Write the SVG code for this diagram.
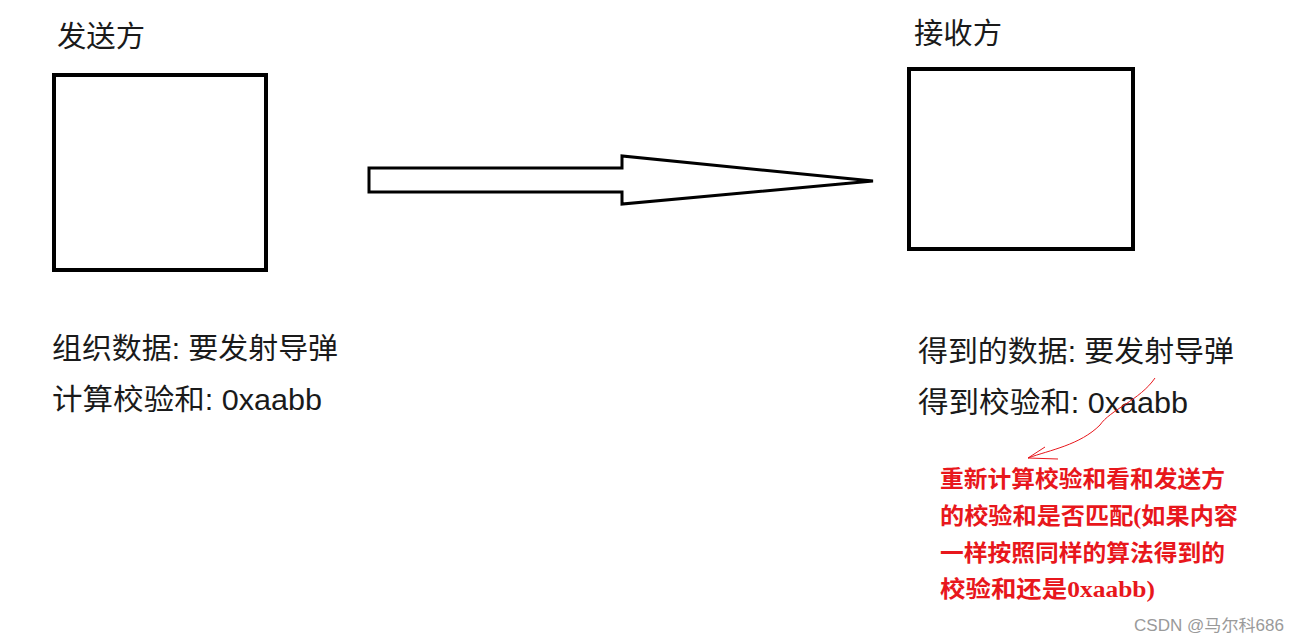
<svg xmlns="http://www.w3.org/2000/svg" width="1299" height="644" viewBox="0 0 1299 644">
<defs>
<style>
.lbl{font-family:"Liberation Sans","Noto Sans CJK SC",sans-serif;font-size:29px;fill:#1a1a1a}
.box{fill:#fff;stroke:#000;stroke-width:4}
.note{font-family:"Liberation Serif","Noto Sans CJK SC",serif;font-size:23px;font-weight:bold;fill:#e8171c}
.wm{font-family:"Liberation Sans","Noto Sans CJK SC",sans-serif;font-size:16px;fill:#9a9a9a}
</style>
</defs>
<rect width="1299" height="644" fill="#fff"/>
<g id="sender">
<text class="lbl" x="57" y="47" textLength="88" lengthAdjust="spacingAndGlyphs">发送方</text>
<rect class="box" x="54" y="75" width="212" height="195"/>
<text class="lbl" x="52" y="359" textLength="286" lengthAdjust="spacingAndGlyphs">组织数据: 要发射导弹</text>
<text class="lbl" x="52" y="410" textLength="270" lengthAdjust="spacingAndGlyphs">计算校验和: 0xaabb</text>
</g>
<g id="receiver">
<text class="lbl" x="914" y="44" textLength="88" lengthAdjust="spacingAndGlyphs">接收方</text>
<rect class="box" x="909" y="69" width="224" height="180"/>
<text class="lbl" x="918" y="362" textLength="316" lengthAdjust="spacingAndGlyphs">得到的数据: 要发射导弹</text>
<text class="lbl" x="918" y="413" textLength="270" lengthAdjust="spacingAndGlyphs">得到校验和: 0xaabb</text>
</g>
<g id="connectors">
<polygon points="369,168 622,168 622,156 873,181 622,204 622,192 369,192" fill="#fff" stroke="#000" stroke-width="3" stroke-linejoin="miter"/>
<path d="M1155,378 C1140,400 1110,410 1100,425 C1080,445 1050,450 1028,458" fill="none" stroke="#e8171c" stroke-width="1"/>
<path d="M1045,447 L1028,458 L1058,459" fill="none" stroke="#e8171c" stroke-width="1"/>
</g>
<g id="note">
<text class="note" x="940" y="487" textLength="285" lengthAdjust="spacingAndGlyphs">重新计算校验和看和发送方</text>
<text class="note" x="940" y="524" textLength="298" lengthAdjust="spacingAndGlyphs">的校验和是否匹配(如果内容</text>
<text class="note" x="940" y="561" textLength="285" lengthAdjust="spacingAndGlyphs">一样按照同样的算法得到的</text>
<text class="note" x="940" y="597" textLength="215" lengthAdjust="spacingAndGlyphs">校验和还是0xaabb)</text>
</g>
<text class="wm" x="1134" y="631" textLength="150" lengthAdjust="spacingAndGlyphs">CSDN @马尔科686</text>
</svg>
